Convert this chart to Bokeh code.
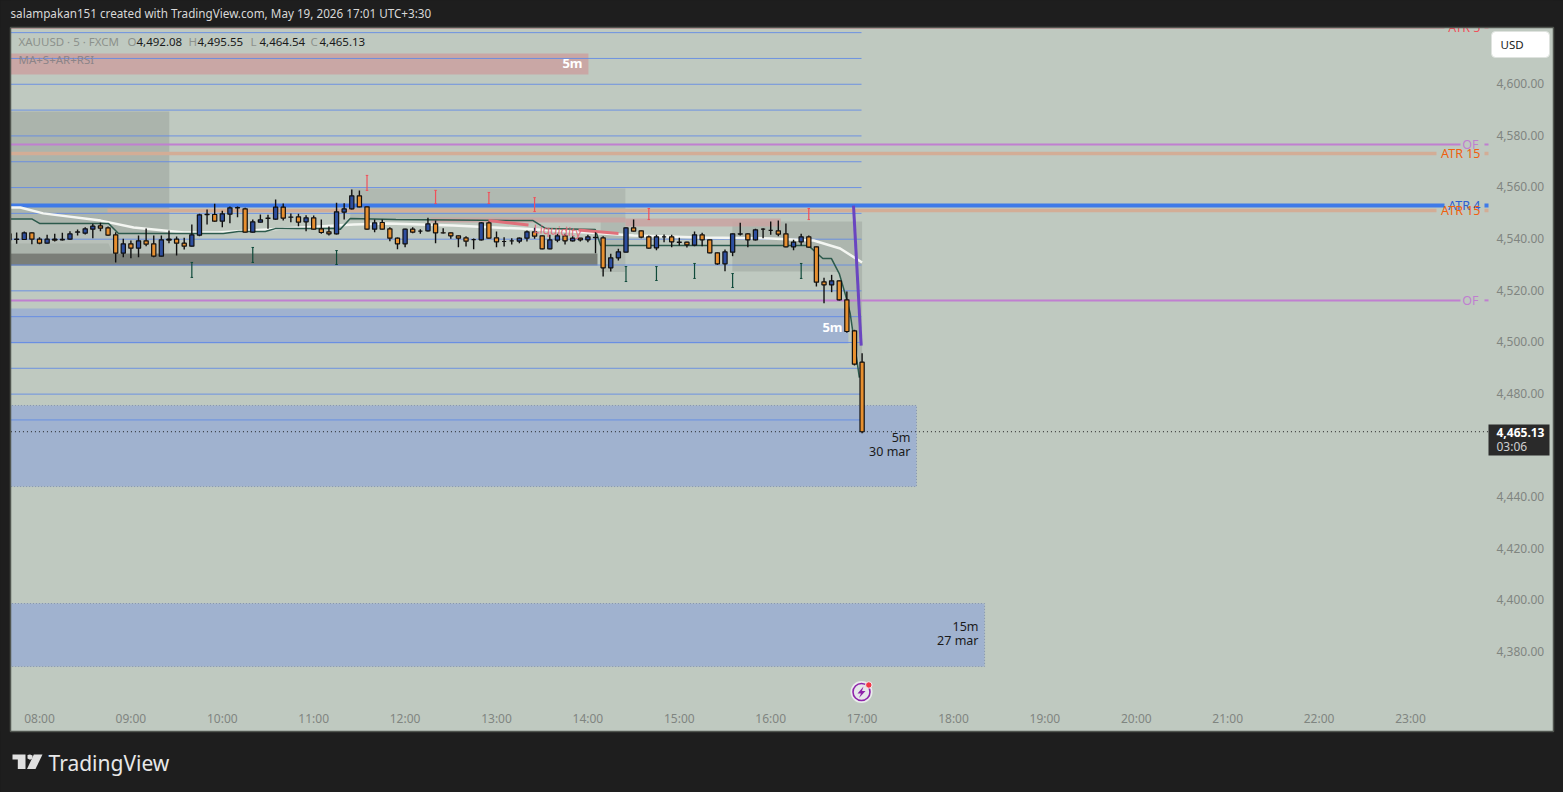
from bokeh.plotting import figure
from bokeh.embed import file_html
from bokeh.resources import INLINE
from bokeh.models import ColumnDataSource, FixedTicker, Range1d
from bokeh.core.properties import value

# ---------- data ----------
first_bar = -4
opens = [4541.77,4539.71,4539.58,4542.16,4539.71,4538.16,4539.71,4539.6,4539.71,4542.4,4542.03,4543.58,4544.87,4544.1,4541.39,4534.29,4537.9,4536.22,4539.06,4537.9,4533.12,4539.7,4539.71,4538.16,4537.0,4541.26,4549.2,4549.26,4546.68,4549.39,4551.8,4551.46,4542.42,4546.29,4547.8,4547.45,4552.1,4548.2,4548.36,4546.42,4547.97,
4543.71,4542.55,4541.77,4550.16,4551.45,4556.49,4552.23,4543.58,4546.16,4543.71,4540.09,4537.9,4543.58,4542.8,4542.93,4545.64,4542.2,4542.16,4541.0,4540.22,4539.5,4539.45,4546.03,4540.22,4538.8,4539.05,4538.93,4540.09,4542.55,4541.0,4535.96,4539.32,4541.0,4539.06,4540.09,4539.45,4540.4,
4540.22,4528.6,4532.48,4534.67,4544.1,4542.94,4540.61,4536.35,4540.6,4540.61,4538.5,4538.55,4537.38,4541.39,4539.45,4534.41,4530.15,4534.67,4541.7,4541.77,4539.45,4543.6,4543.1,4542.94,4541.77,4536.74,4538.68,4540.61,4536.74,4523.18,4522.02,4523.57,4516.22,4504.21,4492.08]
highs = [4542.42,4542.29,4542.68,4542.3,4540.48,4541.39,4541.77,4542.16,4542.81,4543.45,4544.36,4545.65,4546.03,4544.61,4542.42,4539.84,4539.19,4541.13,4543.84,4541.13,4541.13,4543.07,4540.74,4540.22,4545.39,4549.52,4551.2,4553.39,4550.68,4552.36,4552.36,4551.84,4547.32,4549.26,4549.13,4555.07,4553.52,4549.65,4549.52,4549.0,4548.87,
4547.32,4544.61,4553.78,4553.65,4558.94,4558.55,4552.4,4547.32,4547.32,4544.35,4540.35,4543.71,4544.35,4543.58,4547.97,4546.94,4543.97,4542.29,4541.1,4540.87,4539.96,4546.29,4546.55,4542.67,4540.48,4540.09,4540.35,4543.06,4544.09,4541.1,4541.38,4541.77,4541.77,4540.87,4540.2,4541.38,4542.42,
4540.87,4534.03,4535.96,4544.2,4547.32,4543.06,4541.13,4541.39,4541.52,4541.39,4540.22,4538.7,4542.68,4542.16,4539.5,4534.54,4535.71,4541.9,4546.03,4542.03,4543.71,4543.97,4546.55,4546.94,4545.78,4539.45,4541.77,4541.13,4536.9,4524.73,4525.89,4523.7,4519.45,4504.6,4495.55]
lows = [4538.93,4537.9,4539.45,4537.77,4537.77,4538.0,4538.8,4539.19,4539.45,4541.13,4541.52,4540.09,4542.81,4541.0,4530.67,4532.74,4532.35,4532.74,4537.0,4532.74,4533.0,4538.16,4533.38,4535.71,4536.9,4540.87,4545.39,4546.42,4544.36,4545.9,4548.23,4542.3,4542.3,4546.2,4543.71,4547.2,4546.94,4546.29,4544.74,4542.81,4543.45,
4541.77,4541.13,4541.51,4547.32,4551.2,4552.1,4543.32,4542.42,4543.45,4538.93,4535.83,4536.61,4542.03,4541.77,4542.67,4538.16,4541.9,4539.83,4536.61,4536.87,4535.83,4539.19,4539.96,4536.61,4536.87,4537.64,4538.16,4538.8,4539.83,4535.83,4535.83,4538.54,4537.64,4538.8,4538.8,4538.54,4534.28,
4525.25,4527.19,4531.44,4534.6,4542.7,4540.1,4535.96,4535.45,4538.55,4536.61,4537.25,4536.48,4536.99,4536.99,4534.3,4529.77,4527.31,4533.12,4541.13,4536.61,4539.19,4540.1,4541.39,4540.87,4536.61,4535.45,4537.25,4536.35,4521.38,4514.92,4519.18,4515.95,4503.44,4490.79,4464.54]
closes = [4539.45,4539.58,4542.16,4539.71,4538.16,4539.71,4539.32,4539.45,4541.77,4542.5,4543.71,4544.74,4543.97,4541.26,4534.29,4537.9,4536.22,4539.06,4537.77,4533.12,4539.45,4539.3,4538.16,4537.0,4541.39,4549.13,4549.3,4546.68,4549.52,4551.84,4551.9,4542.42,4546.42,4547.2,4547.9,4552.1,4547.84,4548.3,4546.29,4547.97,4543.58,
4542.29,4541.77,4550.29,4551.45,4556.49,4552.23,4543.58,4546.03,4543.58,4540.09,4537.9,4543.58,4542.42,4542.8,4545.64,4542.16,4542.1,4541.0,4540.09,4538.93,4539.5,4546.03,4540.09,4538.67,4538.8,4539.05,4540.09,4542.55,4540.87,4535.96,4539.45,4541.0,4539.06,4540.09,4539.45,4540.61,4540.3,
4528.6,4532.48,4534.8,4544.1,4542.81,4540.48,4536.22,4540.61,4540.6,4538.68,4538.6,4537.51,4541.39,4539.45,4534.41,4530.15,4534.8,4541.77,4541.8,4539.45,4543.32,4543.6,4543.1,4541.64,4536.74,4538.55,4540.61,4536.61,4523.05,4522.02,4523.57,4516.21,4503.95,4491.3,4465.13]

white_t = [7.6,7.79,8.04,8.67,9.03,9.58,9.95,10.31,10.67,11.44,11.81,12.53,13.26,13.996,14.5,15.23,16.0,16.47,16.76,17.0]
white_p = [4552.0,4552.0,4549.7,4546.9,4544.2,4542.3,4542.3,4543.1,4543.8,4545.4,4545.8,4545.0,4543.8,4542.3,4541.1,4540.4,4540.0,4539.2,4536.1,4530.7]
green_t = [7.6,7.92,8.0,8.755,8.864,10.01,10.18,10.47,10.58,11.24,11.29,11.40,11.90,13.40,13.54,14.08,14.14,16.41,16.57,16.665,16.75,16.82,16.87,16.97]
green_p = [4547.5,4547.5,4545.8,4545.8,4541.9,4541.9,4542.7,4542.7,4543.8,4543.8,4543.5,4547.7,4547.3,4546.9,4543.8,4543.5,4537.3,4537.3,4532.2,4532.2,4526.4,4517.9,4510.9,4486.1]

grid_levels = [4619.7,4609.7,4599.7,4589.7,4579.7,4569.7,4559.7,4549.7,4539.7,4529.7,4519.7,4509.7,4499.7,4489.7,4479.7,4469.7]

red_bars = [43,52,59,65,80,101]
red_top = [4564.4,4558.6,4557.8,4555.8,4551.6,4551.6]
red_bot = [4558.6,4553.5,4553.5,4550.4,4547.3,4547.3]
teal_bars = [20,28,39,77,81,86,91,100]
teal_top = [4530.7,4536.5,4535.3,4529.1,4529.1,4530.3,4526.4,4530.3]
teal_bot = [4524.9,4530.7,4529.9,4523.3,4523.7,4524.5,4521.0,4524.5]

y_ticks = [4380,4400,4420,4440,4480,4500,4520,4540,4560,4580,4600]
x_ticks = list(range(8,24))
x_labels = {h: f"{h:02d}:00" for h in x_ticks}

# pixel <-> data helpers (for text and chrome placement only)
PX_H = 91.4
PX_P = 2.582
X = lambda px: 8 + (px - 39) / PX_H
Y = lambda py: 4600 - (py - 83) / PX_P

BG = "#bfc9c0"
DARK = "#1e1e1e"
FONT = "Noto Sans"

p = figure(width=1563, height=792, output_backend="svg", toolbar_location=None,
           x_range=Range1d(X(0), X(1563)), y_range=Range1d(Y(792), Y(0)),
           x_axis_location="below", y_axis_location="right",
           min_border=0)
p.background_fill_color = DARK
p.border_fill_color = DARK
p.outline_line_color = None
p.grid.visible = False

for ax in (p.xaxis[0], p.yaxis[0]):
    ax.axis_line_color = None
    ax.major_tick_line_color = None
    ax.minor_tick_line_color = None
    ax.major_label_text_color = "#7f8580"
    ax.major_label_text_font = FONT
    ax.major_label_text_font_size = "12px"
p.xaxis[0].ticker = FixedTicker(ticks=x_ticks)
p.xaxis[0].major_label_overrides = x_labels
p.xaxis[0].fixed_location = Y(699)
p.xaxis[0].major_label_standoff = 4
p.yaxis[0].ticker = FixedTicker(ticks=y_ticks)
p.yaxis[0].major_label_overrides = {t: f"{t:,}.00" for t in y_ticks}
p.yaxis[0].fixed_location = X(1488)
p.yaxis[0].major_label_standoff = 2

# ---------- chart panel ----------
p.quad(left=[X(10)], right=[X(1553)], top=[Y(27)], bottom=[Y(731)], fill_color=BG, line_color=None)

# ---------- zones ----------
L = 7.6
p.quad(left=[L], right=[9.42], top=[4589.2], bottom=[4534.2], fill_color="#000000", fill_alpha=0.1, line_color=None)
p.patch([L,7.92,8.0,8.755,8.864,9.42,9.42,8.84,8.755,L],
        [4547.5,4547.5,4545.8,4545.8,4541.9,4541.9,4530.7,4530.7,4538.0,4538.0], fill_color="#ffffff", fill_alpha=0.16, line_color=None)
p.quad(left=[L], right=[14.105], top=[4534.2], bottom=[4529.5], fill_color="#7a7e78", line_color=None)
p.quad(left=[11.40], right=[14.41], top=[4559.3], bottom=[4546.9], fill_color="#000000", fill_alpha=0.08, line_color=None)
p.quad(left=[14.14], right=[14.41], top=[4546.9], bottom=[4527.0], fill_color="#000000", fill_alpha=0.08, line_color=None)
p.patch([15.58,17.0,17.0,16.87,16.82,16.75,16.41,15.58],
        [4546.6,4546.6,4486.1,4510.9,4517.9,4527.0,4527.2,4527.2], fill_color="#000000", fill_alpha=0.09, line_color=None)

p.quad(left=[L], right=[14.006], top=[4611.6], bottom=[4603.5], fill_color="#c9a7a5", line_color=None)
p.quad(left=[12.28,14.41], right=[14.41,16.11], top=[4548.1,4547.7], bottom=[4546.2,4544.6], fill_color="#c9a5a3", fill_alpha=0.9, line_color=None)
p.quad(left=[L], right=[16.85], top=[4512.9], bottom=[4499.3], fill_color="#a0b2cf", line_color=None)
p.quad(left=[L,L], right=[17.595,18.34], top=[4475.3,4398.6], bottom=[4443.9,4374.2], fill_color="#a0b2cf",
       line_color="#8595ad", line_dash="1 2", line_width=1)

# ---------- grid-like blue lines ----------
p.segment(x0=[L]*len(grid_levels), x1=[X(861)]*len(grid_levels), y0=grid_levels, y1=grid_levels,
          line_color="#5f88e6", line_width=1, line_alpha=0.85)

# ---------- level lines ----------
def level(price, x_start, x_end, color, width, alpha=1.0):
    p.segment(x0=[x_start], x1=[X(x_end)], y0=[price], y1=[price], line_color=color, line_width=width, line_alpha=alpha)
    p.segment(x0=[X(1484)], x1=[X(1488)], y0=[price], y1=[price], line_color=color, line_width=width, line_alpha=alpha)

level(4621.7, L, 1444, "#dc8a90", 2)
level(4576.4, L, 1460, "#c07fd0", 2)
level(4572.9, L, 1436, "#d3ad96", 3.5)
level(4550.8, X(107), 1436, "#d3ad96", 3.5)
level(4552.75, L, 1444, "#3f7ae8", 4)
level(4516.0, L, 1460, "#c07fd0", 2)

def ptext(x, y, txt, color, size, align="right", weight="normal", angle=0):
    p.text(x=[X(x)], y=[Y(y)], text=[txt], text_color=color, text_font=value(FONT), text_font_size=size,
           text_align=align, text_baseline="middle", text_font_style=weight, angle=angle)

ptext(1480, 27, "ATR 5", "#f0505a", "12.5px")
ptext(1478, 144, "OF", "#c07fd0", "12.5px")
ptext(1480, 153, "ATR 15", "#f0600f", "12.5px")
ptext(1480, 205, "ATR 4", "#2e60d0", "12.5px")
ptext(1480, 210, "ATR 15", "#f0600f", "12.5px")
ptext(1478, 300, "OF", "#c07fd0", "12.5px")

# ---------- moving averages ----------
p.line(white_t, white_p, line_color="#f4f6f2", line_width=2.5)
p.line(green_t, green_p, line_color="#2c5a4c", line_width=1.5)

# ---------- liquidity ----------
p.segment(x0=[X(488),X(578)], x1=[X(528),X(618)], y0=[4546.9,4543.3], y1=[4545.2,4541.9], line_color="#e0707a", line_width=3)

# ---------- markers ----------
bar_t = lambda k: 8 + k / 12
p.segment(x0=[bar_t(k) for k in red_bars], x1=[bar_t(k) for k in red_bars], y0=red_top, y1=red_bot, line_color="#f0505a", line_width=1.2)
p.scatter(x=[bar_t(k) for k in red_bars]*2, y=red_top+red_bot, marker="dash", size=2.5, line_color="#f0505a", line_width=1)
p.segment(x0=[bar_t(k) for k in teal_bars], x1=[bar_t(k) for k in teal_bars], y0=teal_top, y1=teal_bot, line_color="#0f4a3a", line_width=1.2)
p.scatter(x=[bar_t(k) for k in teal_bars]*2, y=teal_top+teal_bot, marker="dash", size=2.5, line_color="#0f4a3a", line_width=1)

# ---------- purple trend ----------
p.line([16.906,16.99], [4552.7,4498.5], line_color="#6a45c0", line_width=3)

# ---------- candles ----------
t = [bar_t(first_bar + i) for i in range(len(opens))]
colors = ["#2e4fa0" if c > o else "#e89030" for o, c in zip(opens, closes)]
src = ColumnDataSource(dict(t=t, o=opens, h=highs, l=lows, c=closes, color=colors,
                            top=[max(a, b) for a, b in zip(opens, closes)],
                            bottom=[min(a, b) for a, b in zip(opens, closes)]))
p.segment(x0="t", x1="t", y0="l", y1="h", source=src, line_color="#101010", line_width=1.4)
p.vbar(x="t", top="top", bottom="bottom", width=4.2 / PX_H, source=src, fill_color="color", line_color="#101010", line_width=1.2)

ptext(533, 228, "Liquidity", "#e06a78", "12px", align="left", angle=-0.08)

# ---------- current price ----------
p.segment(x0=[L], x1=[X(1488)], y0=[closes[-1]], y1=[closes[-1]], line_color="#222222", line_width=1, line_dash="1 3")
p.quad(left=[X(1488)], right=[X(1549)], top=[Y(424)], bottom=[Y(455)], fill_color="#2a2a2a", line_color=None)
ptext(1496, 432, "4,465.13", "#ffffff", "12px", align="left", weight="bold")
ptext(1496, 446, "03:06", "#d0d0d0", "12px", align="left")

# ---------- zone labels ----------
ptext(582, 62, "5m", "#ffffff", "13px", weight="bold")
ptext(842, 326, "5m", "#ffffff", "13px", weight="bold")
ptext(910, 437, "5m", "#1a1a1a", "12.5px")
ptext(910, 451, "30 mar", "#1a1a1a", "12.5px")
ptext(978, 626, "15m", "#1a1a1a", "12.5px")
ptext(978, 640, "27 mar", "#1a1a1a", "12.5px")

# ---------- legend ----------
ptext(18, 41, "XAUUSD · 5 · FXCM", "#8c918c", "11.5px", align="left")
for px, lab, val in [(127, "O", "4,492.08"), (188, "H", "4,495.55"), (250, "L", "4,464.54"), (310, "C", "4,465.13")]:
    ptext(px, 41, lab, "#8c918c", "11.5px", align="left")
    ptext(px + 9, 41, val, "#1a1a1a", "11.5px", align="left")
ptext(18, 59, "MA+S+AR+RSI", "#8c8488", "11.5px", align="left")

# ---------- USD button ----------
p.quad(left=[X(1491)], right=[X(1549)], top=[Y(31)], bottom=[Y(57)], fill_color="#ffffff", line_color="#dfe3df", line_width=1, border_radius=4)
ptext(1500, 44, "USD", "#1a1a1a", "11.5px", align="left")

# ---------- bolt icon ----------
p.scatter(x=[X(861)], y=[Y(691.5)], size=22, marker="circle", fill_color="#f0f0f2", fill_alpha=0.9, line_color=None)
p.scatter(x=[X(861)], y=[Y(691.5)], size=17, marker="circle", fill_color="#e6e6ea", line_color="#8e24aa", line_width=1.6)
bolt = [(863,686),(857,693),(860.5,693),(858.5,697.5),(865,690.5),(861.5,690.5)]
p.patch([X(a) for a, _ in bolt], [Y(b) for _, b in bolt], fill_color="#8e24aa", line_color=None)
p.scatter(x=[X(868.3)], y=[Y(684.5)], size=6.5, marker="circle", fill_color="#f23645", line_color="#f2f0f5", line_width=1)

# ---------- page chrome drawn over the panel's overflow ----------
for l, r, tp, bt in [(0, 10, 0, 792), (1553, 1563, 0, 792), (0, 1563, 0, 27), (0, 1563, 731, 792)]:
    p.quad(left=[X(l)], right=[X(r)], top=[Y(tp)], bottom=[Y(bt)], fill_color=DARK, line_color=None)
p.quad(left=[X(10)], right=[X(1553)], top=[Y(27)], bottom=[Y(731)], fill_color=None, line_color="#50554f", line_width=1.5)

ptext(10, 12, "salampakan151 created with TradingView.com, May 19, 2026 17:01 UTC+3:30", "#d8d8d8", "11.7px", align="left")
ptext(48, 762, "TradingView", "#e8e8e8", "21px", align="left")
logo_t = [(12,754),(25,754),(25,768.5),(17.3,768.5),(17.3,759),(12,759)]
logo_s = [(33.3,754),(42,754),(35,768.5),(26.5,768.5)]
logo_d = [(27,754.5),(29.5,754),(32,755),(32,758),(29.5,759.2),(27,758)]
for shape in (logo_t, logo_s, logo_d):
    p.patch([X(a) for a, _ in shape], [Y(b) for _, b in shape], fill_color="#e0e0e0", line_color=None)

html = file_html(p, INLINE).replace("<body>", '<body style="background:#1e1e1e;margin:0">')
open("out.html", "w").write(html)
